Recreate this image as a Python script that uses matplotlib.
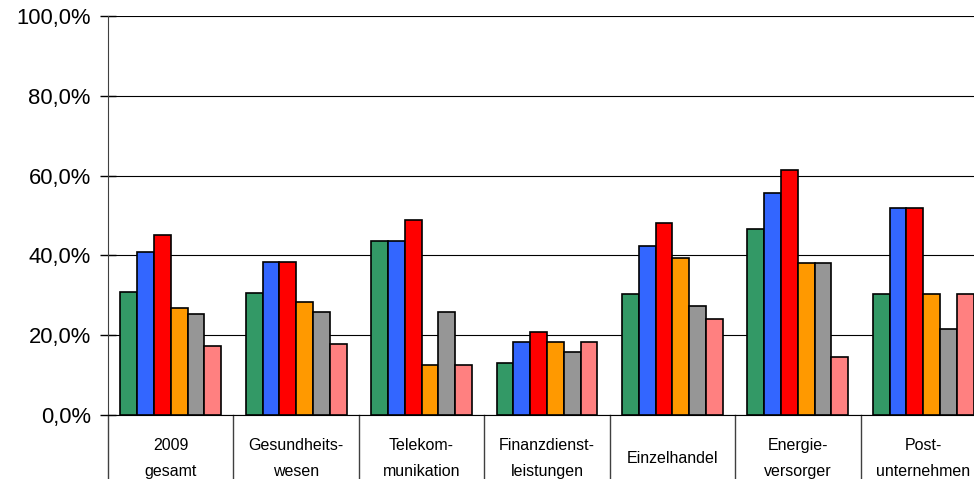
import numpy as np
import matplotlib.pyplot as plt
from matplotlib.ticker import FuncFormatter

categories = ['2009\ngesamt', 'Gesundheits-\nwesen', 'Telekom-\nmunikation',
              'Finanzdienst-\nleistungen', 'Einzelhandel', 'Energie-\nversorger',
              'Post-\nunternehmen']

# six series per group (values in percent)
s_green = [30.9, 30.5, 43.6, 13.1, 30.4, 46.7, 30.4]
s_blue = [40.9, 38.3, 43.6, 18.3, 42.4, 55.6, 52.0]
s_red = [45.1, 38.3, 48.8, 20.9, 48.2, 61.4, 52.0]
s_orange = [26.7, 28.2, 12.5, 18.3, 39.3, 38.2, 30.4]
s_gray = [25.2, 25.7, 25.7, 15.7, 27.2, 38.2, 21.5]
s_pink = [17.3, 17.9, 12.5, 18.3, 24.1, 14.6, 30.4]

series = [s_green, s_blue, s_red, s_orange, s_gray, s_pink]
colors = ['#339966', '#3366FF', '#FF0000', '#FF9900', '#969696', '#FF8080']

plt.rcParams['font.family'] = ['Liberation Sans', 'DejaVu Sans']

fig = plt.figure(figsize=(9.74, 4.79), dpi=100)
W, H = 974, 479
ax = fig.add_axes([108 / W, (H - 415) / H, (986 - 108) / W, (415 - 16) / H])

x = np.arange(len(categories))
bw = 0.134
for k, (vals, c) in enumerate(zip(series, colors)):
    ax.bar(x + (k - 2.5) * bw, vals, width=bw, color=c, edgecolor='black',
           linewidth=1.2, zorder=3)

ax.set_xlim(-0.5, len(categories) - 0.5)
ax.set_ylim(0, 100)
ax.set_yticks(np.arange(0, 101, 20))
ax.yaxis.set_major_formatter(FuncFormatter(lambda v, p: ('%.1f%%' % v).replace('.', ',')))
ax.tick_params(axis='y', labelsize=15.8, length=11, width=1, direction='inout', pad=7)
ax.set_xticks([])
ax.yaxis.grid(True, color='black', linewidth=0.8, zorder=0)

for s in ['top', 'right']:
    ax.spines[s].set_visible(False)
ax.spines['left'].set_color('#404040')
ax.spines['bottom'].set_color('black')

# separators below the axis and category labels
for b in np.arange(-0.5, len(categories), 1.0):
    ax.plot([b, b], [0, -20], color='#404040', linewidth=1, clip_on=False)
for i, lab in enumerate(categories):
    ax.text(i, -11.0, lab, ha='center', va='center', fontsize=11.5,
            linespacing=1.9, clip_on=False)

fig.savefig('out.png', dpi=100)
